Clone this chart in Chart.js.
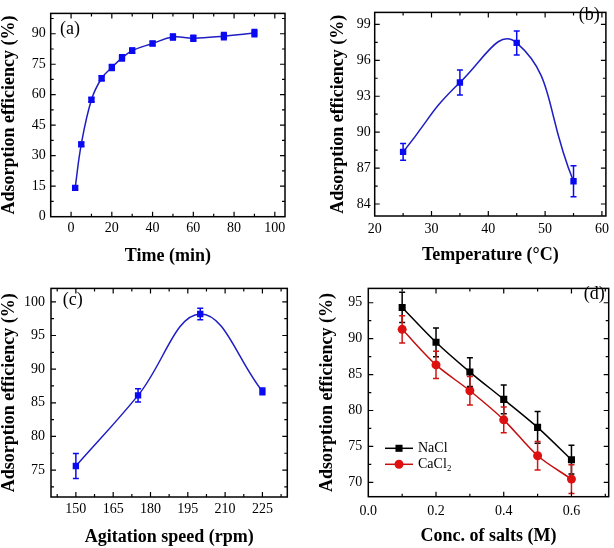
<!DOCTYPE html>
<html><head><meta charset="utf-8">
<script src="https://cdn.jsdelivr.net/npm/chart.js@4.4.0/dist/chart.umd.min.js"></script>
<style>
html,body{margin:0;padding:0;background:#fff;width:614px;height:548px;overflow:hidden;}
.p{position:absolute;width:307px;height:274px;}
canvas{display:block;}
</style></head><body>
<div class="p" style="left:0;top:0"><canvas id="ca" width="307" height="274"></canvas></div>
<div class="p" style="left:307px;top:0"><canvas id="cb" width="307" height="274"></canvas></div>
<div class="p" style="left:0;top:274px"><canvas id="cc" width="307" height="274"></canvas></div>
<div class="p" style="left:307px;top:274px"><canvas id="cd" width="307" height="274"></canvas></div>
<script>
// ---- data ----
const timeMin  = [2, 5, 10, 15, 20, 25, 30, 40, 50, 60, 75, 90];
const effTime  = [14.2, 35.6, 57.5, 68.1, 73.4, 78.1, 81.7, 85.2, 88.4, 87.8, 88.8, 90.3];
const errTime  = [0.8, 1.0, 1.0, 1.2, 1.5, 1.5, 1.3, 1.0, 1.5, 1.5, 1.8, 1.8];

const tempC    = [25, 35, 45, 55];
const effTemp  = [88.35, 94.15, 97.45, 85.9];
const errTemp  = [0.7, 1.05, 1.0, 1.3];

const speedRpm = [150, 175, 200, 225];
const effSpeed = [75.6, 86.1, 98.2, 86.7];
const errSpeed = [1.85, 1.0, 0.85, 0.5];

const saltConc = [0.1, 0.2, 0.3, 0.4, 0.5, 0.6];
const effNaCl  = [94.35, 89.5, 85.35, 81.55, 77.65, 73.15];
const errNaCl  = [2.1, 2.0, 2.0, 2.0, 2.2, 2.0];
const effCaCl2 = [91.3, 86.35, 82.75, 78.7, 73.7, 70.45];
const errCaCl2 = [1.9, 1.9, 2.0, 1.8, 2.0, 2.0];

// ---- tick labels ----
const ticksTimeX  = [0, 20, 40, 60, 80, 100];
const ticksTimeY  = [0, 15, 30, 45, 60, 75, 90];
const ticksTempX  = [20, 30, 40, 50, 60];
const ticksTempY  = [84, 87, 90, 93, 96, 99];
const ticksSpeedX = [150, 165, 180, 195, 210, 225];
const ticksSpeedY = [75, 80, 85, 90, 95, 100];
const ticksSaltX  = [0.0, 0.2, 0.4, 0.6];
const ticksSaltY  = [70, 75, 80, 85, 90, 95];

const SERIF = '"Liberation Serif", "Times New Roman", serif';
Chart.defaults.color = '#000';
Chart.defaults.font.family = SERIF;

const pts = (xs, ys) => xs.map((x, i) => ({x: x, y: ys[i]}));

const panelPlugin = {
  id: 'panel',
  afterDatasetsDraw(chart) {
    const ctx = chart.ctx, ca = chart.chartArea, xs = chart.scales.x, ys = chart.scales.y;
    ctx.save();
    ctx.beginPath();
    ctx.rect(ca.left, ca.top, ca.right - ca.left, ca.bottom - ca.top);
    ctx.clip();
    chart.data.datasets.forEach(ds => {
      if (!ds.errors) return;
      ctx.strokeStyle = ds.errColor;
      ctx.lineWidth = 1.5;
      ds.data.forEach((p, j) => {
        const e = ds.errors[j];
        const x = xs.getPixelForValue(p.x);
        const y1 = ys.getPixelForValue(p.y + e), y2 = ys.getPixelForValue(p.y - e);
        const c = 3;
        ctx.beginPath();
        ctx.moveTo(x, y1); ctx.lineTo(x, y2);
        ctx.moveTo(x - c, y1); ctx.lineTo(x + c, y1);
        ctx.moveTo(x - c, y2); ctx.lineTo(x + c, y2);
        ctx.stroke();
      });
    });
    ctx.restore();
  },
  afterDraw(chart) {
    const ctx = chart.ctx, ca = chart.chartArea, xs = chart.scales.x, ys = chart.scales.y;
    const o = chart.options.plugins.panel;
    ctx.save();
    ctx.strokeStyle = '#000';
    const drawTicks = (scale, horiz) => {
      const vals = scale.ticks.map(t => t.value);
      const step = vals[1] - vals[0];
      const minors = [];
      for (let i = -1; i < vals.length; i++) minors.push(vals[0] + (i + 0.5) * step);
      const one = (v, len) => {
        const p = scale.getPixelForValue(v);
        if (horiz) {
          if (p < ca.left + 1 || p > ca.right - 1) return;
          ctx.moveTo(p, ca.bottom); ctx.lineTo(p, ca.bottom - len);
          ctx.moveTo(p, ca.top); ctx.lineTo(p, ca.top + len);
        } else {
          if (p < ca.top + 1 || p > ca.bottom - 1) return;
          ctx.moveTo(ca.left, p); ctx.lineTo(ca.left + len, p);
          ctx.moveTo(ca.right, p); ctx.lineTo(ca.right - len, p);
        }
      };
      ctx.beginPath();
      ctx.lineWidth = 1.2;
      vals.forEach(v => one(v, 5));
      minors.forEach(v => one(v, 3));
      ctx.stroke();
    };
    drawTicks(xs, true);
    drawTicks(ys, false);
    ctx.lineWidth = 1.5;
    ctx.strokeRect(ca.left, ca.top, ca.right - ca.left, ca.bottom - ca.top);
    ctx.fillStyle = '#000';
    ctx.font = '18px ' + SERIF;
    ctx.textBaseline = 'middle';
    ctx.textAlign = 'left';
    ctx.fillText(o.label, o.labelX, o.labelY);
    if (o.legend) {
      chart.data.datasets.forEach((ds, i) => {
        const y = o.legend.y + i * o.legend.dy;
        const x0 = o.legend.x, x1 = x0 + 28, xm = (x0 + x1) / 2;
        ctx.strokeStyle = ds.borderColor;
        ctx.lineWidth = 1.5;
        ctx.beginPath(); ctx.moveTo(x0, y); ctx.lineTo(x1, y); ctx.stroke();
        ctx.fillStyle = ds.pointBackgroundColor;
        ctx.beginPath();
        if (ds.pointStyle === 'circle') ctx.arc(xm, y, ds.pointRadius, 0, Math.PI * 2);
        else { const s = ds.pointRadius * Math.SQRT1_2; ctx.rect(xm - s, y - s, 2 * s, 2 * s); }
        ctx.fill();
        ctx.fillStyle = '#000';
        ctx.font = '14px ' + SERIF;
        ctx.fillText(ds.label, x1 + 5, y);
      });
    }
    ctx.restore();
  }
};

function makePanel(id, c) {
  return new Chart(document.getElementById(id), {
    type: 'line',
    data: { datasets: c.datasets },
    plugins: [panelPlugin],
    options: {
      responsive: false,
      animation: false,
      layout: { autoPadding: false, padding: { left: 0, top: c.pad.top, right: c.pad.right, bottom: 0 } },
      plugins: {
        legend: { display: false },
        tooltip: { enabled: false },
        panel: c.panel
      },
      scales: {
        x: {
          type: 'linear', min: c.xMin, max: c.xMax,
          grid: { display: false, drawTicks: false },
          border: { display: false },
          afterBuildTicks: s => { s.ticks = c.xTicks.map(v => ({value: v})); },
          afterFit: s => { s.height = c.xH; },
          ticks: { padding: c.xTickPad, font: { size: 14 }, maxRotation: 0, autoSkip: false,
                   callback: c.xFmt || (v => v) },
          title: { display: true, text: c.xTitle, font: { size: 18, weight: 'bold', lineHeight: 1 },
                   padding: { top: 0, bottom: c.xTitlePad } }
        },
        y: {
          type: 'linear', min: c.yMin, max: c.yMax,
          grid: { display: false, drawTicks: false },
          border: { display: false },
          afterBuildTicks: s => { s.ticks = c.yTicks.map(v => ({value: v})); },
          afterFit: s => { s.width = c.yW; },
          ticks: { padding: c.yTickPad, font: { size: 14 }, autoSkip: false },
          title: { display: true, text: 'Adsorption efficiency (%)', font: { size: 18, weight: 'bold', lineHeight: 1 },
                   padding: { top: c.yTitlePad, bottom: 0 } }
        }
      }
    }
  });
}

const BLUE_LINE = '#1e1ec4', BLUE_PT = '#0a0af2';
const blueSet = (xs, ys, es, t) => ({
  label: 'data', data: pts(xs, ys), errors: es, errColor: BLUE_PT,
  borderColor: BLUE_LINE, borderWidth: 1.5, tension: t,
  pointStyle: 'rect', pointRadius: 4.5, pointBackgroundColor: BLUE_PT, pointBorderColor: BLUE_PT, pointBorderWidth: 0
});

makePanel('ca', {
  datasets: [blueSet(timeMin, effTime, errTime, 0.4)],
  xMin: -10, xMax: 105, yMin: 0, yMax: 100, xTicks: ticksTimeX, yTicks: ticksTimeY,
  xTitle: 'Time (min)', pad: { top: 3, right: 22 }, yW: 50.7, xH: 57.3,
  yTitlePad: 0.5, xTitlePad: 9, yTickPad: 5, xTickPad: 3,
  panel: { label: '(a)', labelX: 60, labelY: 29 }
});

makePanel('cb', {
  datasets: [blueSet(tempC, effTemp, errTemp, 0.5)],
  xMin: 20, xMax: 60.7, yMin: 83, yMax: 100, xTicks: ticksTempX, yTicks: ticksTempY,
  xTitle: 'Temperature (°C)', pad: { top: 2, right: 4.7 }, yW: 67.7, xH: 58,
  yTitlePad: 22.7, xTitlePad: 10, yTickPad: 4, xTickPad: 5,
  panel: { label: '(b)', labelX: 271.7, labelY: 15 }
});

makePanel('cc', {
  datasets: [blueSet(speedRpm, effSpeed, errSpeed, 0.4)],
  xMin: 140, xMax: 235, yMin: 71, yMax: 102, xTicks: ticksSpeedX, yTicks: ticksSpeedY,
  xTitle: 'Agitation speed (rpm)', pad: { top: 5, right: 19.7 }, yW: 51, xH: 51,
  yTitlePad: 0, xTitlePad: 1.7, yTickPad: 6, xTickPad: 4,
  panel: { label: '(c)', labelX: 62.7, labelY: 26 }
});

makePanel('cd', {
  datasets: [
    { label: 'NaCl', data: pts(saltConc, effNaCl), errors: errNaCl, errColor: '#000',
      borderColor: '#000', borderWidth: 1.5, tension: 0.3,
      pointStyle: 'rect', pointRadius: 5, pointBackgroundColor: '#000', pointBorderColor: '#000', pointBorderWidth: 0 },
    { label: 'CaCl₂', data: pts(saltConc, effCaCl2), errors: errCaCl2, errColor: '#d01515',
      borderColor: '#c40f0f', borderWidth: 1.5, tension: 0.3,
      pointStyle: 'circle', pointRadius: 4.5, pointBackgroundColor: '#e01010', pointBorderColor: '#e01010', pointBorderWidth: 0 }
  ],
  xMin: 0, xMax: 0.71, yMin: 68, yMax: 97, xTicks: ticksSaltX, yTicks: ticksSaltY,
  xFmt: v => Number(v).toFixed(1),
  xTitle: 'Conc. of salts (M)', pad: { top: 1, right: 5.3 }, yW: 61.3, xH: 51.3,
  yTitlePad: 11, xTitlePad: 2.3, yTickPad: 6, xTickPad: 6,
  panel: { label: '(d)', labelX: 276.7, labelY: 20, legend: { x: 78, y: 174.3, dy: 16 } }
});
</script>
</body></html>
